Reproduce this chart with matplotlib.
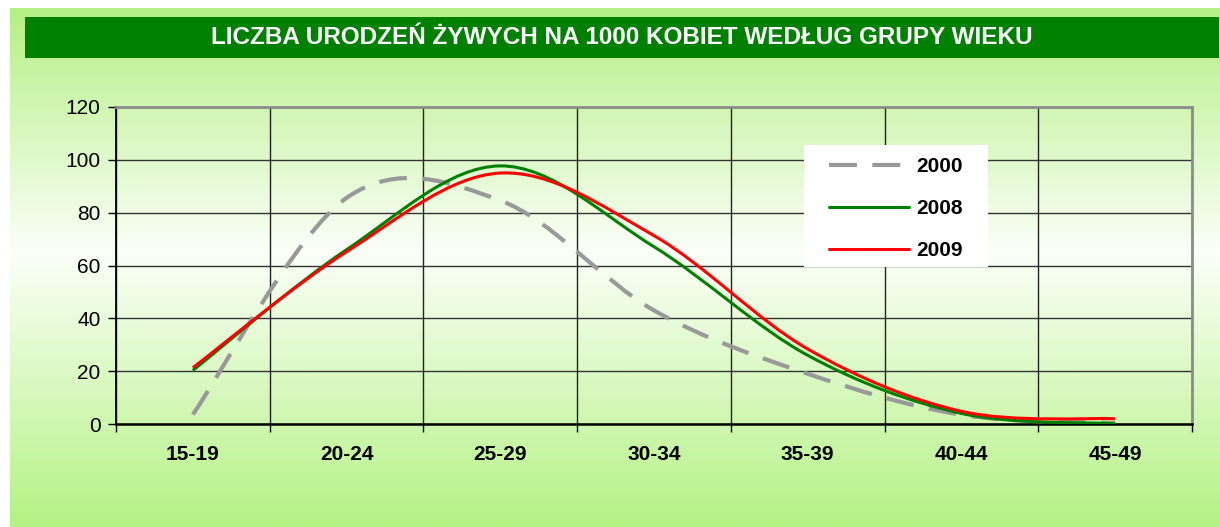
import matplotlib
matplotlib.use("Agg")
import matplotlib.pyplot as plt
import numpy as np
from matplotlib.path import Path
from matplotlib.patches import PathPatch, Rectangle
from matplotlib.lines import Line2D
from matplotlib.colors import LinearSegmentedColormap

# ── Data ──────────────────────────────────────────────────────────
age_groups = ["15-19", "20-24", "25-29", "30-34", "35-39", "40-44", "45-49"]
y2000 = [3.6, 85.6, 84.6, 43.0, 19.0, 3.5, 0.3]
y2008 = [20.3, 66.0, 97.7, 67.1, 26.0, 4.0, 0.1]
y2009 = [21.3, 65.2, 95.0, 71.3, 28.4, 4.8, 2.0]
series_labels = ["2000", "2008", "2009"]

TITLE = "LICZBA URODZEŃ ŻYWYCH NA 1000 KOBIET WEDŁUG GRUPY WIEKU"

W, H = 1220, 527
FONT = ["Liberation Sans", "DejaVu Sans"]
plt.rcParams["font.family"] = FONT


def smooth_path(xs, ys):
    """Excel-like smoothed line: cubic Bezier segments through every point."""
    pts = np.column_stack([xs, ys]).astype(float)
    ext = np.vstack([pts[0], pts, pts[-1]])
    verts = [tuple(pts[0])]
    codes = [Path.MOVETO]
    for i in range(len(pts) - 1):
        p0, p1, p2, p3 = ext[i], ext[i + 1], ext[i + 2], ext[i + 3]
        c1 = p1 + (p2 - p0) / 6.0
        c2 = p2 - (p3 - p1) / 6.0
        verts += [tuple(c1), tuple(c2), tuple(p2)]
        codes += [Path.CURVE4] * 3
    return Path(verts, codes)


fig = plt.figure(figsize=(W / 100, H / 100), dpi=100)
fig.patch.set_facecolor("white")

# ── Background panel with vertical gradient ──────────────────────
bg = fig.add_axes([10 / W, 0, 1 - 10 / W, 1 - 8 / H], zorder=-10)
grad_cmap = LinearSegmentedColormap.from_list(
    "bg", [(0.0, "#b4f084"), (0.47, "#fbfff8"), (1.0, "#b4f284")])
bg.imshow(np.linspace(0, 1, 256).reshape(-1, 1), aspect="auto", cmap=grad_cmap,
          extent=[0, 1, 0, 1], origin="upper")
bg.set_axis_off()

# ── Title bar ────────────────────────────────────────────────────
fig.patches.append(Rectangle((25 / W, 1 - 58 / H), (1219 - 25) / W, 41 / H,
                             transform=fig.transFigure, facecolor="#008000",
                             edgecolor="none", zorder=1))
fig.text(622 / W, 1 - 38 / H, TITLE, color="white", fontsize=17.5,
         fontweight="bold", ha="center", va="center", zorder=2)

# ── Plot area ────────────────────────────────────────────────────
ax = fig.add_axes([116 / W, 1 - 424 / H, (1192 - 116) / W, (424 - 107) / H])
ax.set_facecolor("none")
x = np.arange(len(age_groups))

styles = [
    (y2000, "#999999", 3.0, (0, (6.7, 3.7))),
    (y2008, "#008000", 2.2, "solid"),
    (y2009, "#ff0000", 2.2, "solid"),
]
handles = []
for vals, col, lw, ls in styles:
    ax.add_patch(PathPatch(smooth_path(x, vals), fill=False, edgecolor=col,
                           lw=lw, linestyle=ls, capstyle="butt",
                           joinstyle="round", zorder=3))
    handles.append(Line2D([], [], color=col, lw=lw, linestyle=ls,
                          solid_capstyle="round"))

ax.set_xlim(-0.5, len(age_groups) - 0.5)
ax.set_ylim(0, 120)
ax.set_yticks(range(0, 121, 20))
ax.set_xticks(x)
ax.set_xticklabels(age_groups, fontsize=15, fontweight="bold")
ax.set_xticks(np.arange(-0.5, len(age_groups), 1), minor=True)
ax.tick_params(axis="x", which="major", length=0, pad=15)
ax.tick_params(axis="x", which="minor", length=6, width=1, color="black",
               direction="out")
ax.tick_params(axis="y", length=6, width=1, pad=5, labelsize=15)

ax.yaxis.grid(True, color="#333333", lw=1)
ax.xaxis.grid(True, which="minor", color="#222222", lw=1)
ax.set_axisbelow(True)

for side in ["top", "right"]:
    ax.spines[side].set_color("#8c8c8c")
    ax.spines[side].set_linewidth(2)
ax.spines["left"].set_linewidth(1.3)
ax.spines["bottom"].set_linewidth(1.8)

# ── Legend (white box + frameless legend inside) ─────────────────
fig.patches.append(Rectangle((804 / W, 1 - 267 / H), (988 - 804) / W, 122 / H,
                             transform=fig.transFigure, facecolor="white",
                             edgecolor="none", zorder=4))
leg = fig.legend(handles, series_labels, loc="upper left",
                 bbox_to_anchor=(829 / W, 1 - 157 / H), frameon=False,
                 borderpad=0, borderaxespad=0, handlelength=3.85,
                 handletextpad=0.35, labelspacing=1.1,
                 prop={"weight": "bold", "size": 15})
leg.set_zorder(5)

fig.savefig("out.png", dpi=100)
